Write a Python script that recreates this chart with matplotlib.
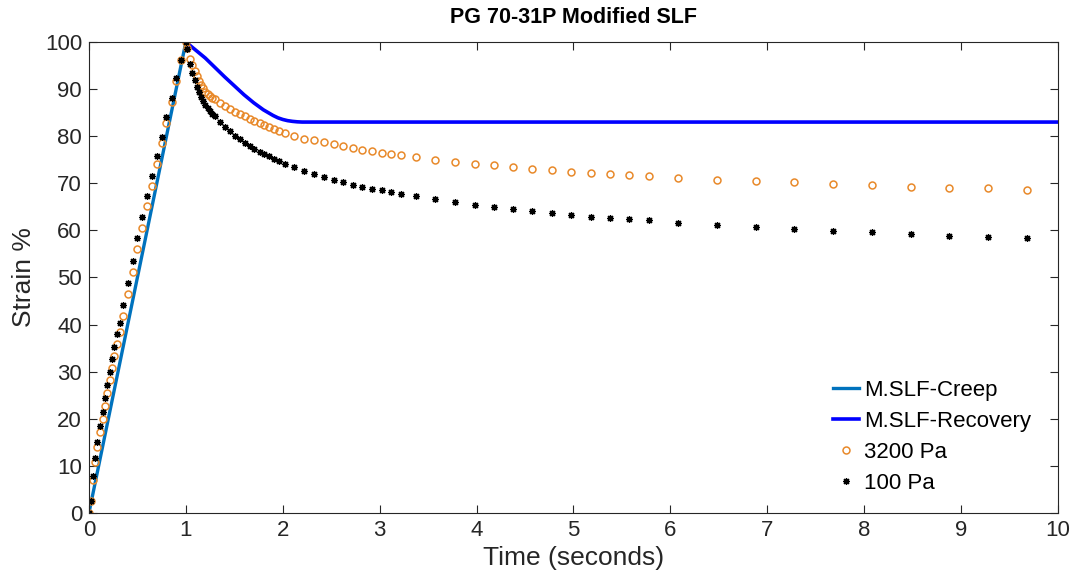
import matplotlib
matplotlib.use("Agg")
import matplotlib.pyplot as plt

plt.rcParams['font.family'] = ['Liberation Sans', 'DejaVu Sans']

# model curves
t_creep_model = [0.0, 1.0]
y_creep_model = [0.0, 100.0]
t_rec_model = [1.0, 1.1, 1.2, 1.3, 1.4, 1.5, 1.6, 1.7, 1.8, 1.85, 1.9, 1.95, 2.0, 2.05,
               2.1, 2.15, 2.2, 10.0]
y_rec_model = [100.0, 98.3, 96.6, 94.6, 92.6, 90.7, 88.8, 87.1, 85.6, 85.0, 84.4, 83.9,
               83.55, 83.3, 83.15, 83.05, 83.0, 83.0]

# measured data (creep part, shared time points)
t_creep = [0, 0.017, 0.04, 0.062, 0.088, 0.117, 0.14, 0.162, 0.187, 0.213, 0.237, 0.263,
           0.29, 0.317, 0.351, 0.403, 0.45, 0.50, 0.55, 0.60, 0.652, 0.705, 0.752, 0.80,
           0.857, 0.903, 0.955, 1.0]
pa3200_creep = [0, 2.6, 7.1, 10.8, 14.1, 17.1, 20.0, 22.8, 25.5, 28.2, 30.7, 33.3, 35.9, 38.4,
                41.9, 46.6, 51.2, 56.1, 60.6, 65.1, 69.5, 74.0, 78.5, 82.9, 87.3, 91.7, 96.2, 100]
pa100_creep = [0, 2.6, 7.9, 11.6, 15.1, 18.5, 21.5, 24.4, 27.2, 29.9, 32.6, 35.3, 38.0, 40.4,
               44.2, 48.9, 53.6, 58.3, 62.8, 67.2, 71.5, 75.7, 79.9, 84.1, 88.2, 92.3, 96.2, 100]

# measured data (recovery part)
t_rec = [1.015, 1.04, 1.066, 1.09, 1.11, 1.135, 1.155, 1.18, 1.20, 1.23, 1.25, 1.27, 1.30,
         1.35, 1.40, 1.455, 1.51, 1.56, 1.61, 1.66, 1.705, 1.76, 1.805, 1.855, 1.905, 1.96,
         2.02, 2.12, 2.22, 2.325, 2.425, 2.525, 2.62, 2.72, 2.82, 2.92, 3.02, 3.12, 3.22,
         3.37, 3.57, 3.78, 3.98, 4.18, 4.375, 4.575,
         4.775, 4.974, 5.18, 5.38, 5.57, 5.78, 6.08, 6.48, 6.88, 7.28, 7.68, 8.08, 8.48,
         8.88, 9.28, 9.68]
pa3200_rec = [98.8, 96.4, 95.1, 93.8, 92.7, 91.7, 90.9, 90.2, 89.4, 88.9, 88.5, 88.2, 87.8,
              87.1, 86.4, 85.8, 85.2, 84.7, 84.2, 83.7, 83.2, 82.7, 82.3, 81.9, 81.5, 81.1,
              80.7, 80.1, 79.5, 79.2, 78.7, 78.3, 77.9, 77.5, 77.1, 76.8, 76.5, 76.2, 75.9,
              75.5, 75.0, 74.5, 74.2, 73.8, 73.4, 73.1,
              72.8, 72.5, 72.2, 72.0, 71.8, 71.5, 71.2, 70.8, 70.5, 70.2, 69.9, 69.6, 69.3,
              69.1, 68.9, 68.6]
pa100_rec = [98.5, 95.3, 93.5, 91.9, 90.5, 89.3, 88.4, 87.5, 86.7, 86.0, 85.4, 84.8, 84.2,
             83.1, 82.0, 81.0, 80.1, 79.3, 78.6, 77.9, 77.3, 76.7, 76.2, 75.7, 75.2, 74.7,
             74.2, 73.4, 72.6, 71.9, 71.3, 70.8, 70.3, 69.7, 69.3, 68.8, 68.5, 68.1, 67.7,
             67.2, 66.6, 66.0, 65.4, 65.0, 64.5, 64.1,
             63.7, 63.3, 62.9, 62.6, 62.4, 62.1, 61.6, 61.1, 60.7, 60.3, 59.9, 59.6, 59.2,
             58.9, 58.7, 58.4]

fig = plt.figure(figsize=(10.73, 5.84), dpi=100)
ax = fig.add_axes([0.0829, 0.1216, 0.9031, 0.8065])

h1, = ax.plot(t_creep_model, y_creep_model, color='#0072BD', lw=2.4, label='M.SLF-Creep')
h2, = ax.plot(t_rec_model, y_rec_model, color='#0000FF', lw=2.6, label='M.SLF-Recovery')
h3, = ax.plot(t_creep + t_rec, pa3200_creep + pa3200_rec, ls='none', marker='o', ms=5,
              mfc='none', mec='#E8892A', mew=1.1, label='3200 Pa')
h4, = ax.plot(t_creep + t_rec, pa100_creep + pa100_rec, ls='none', marker=(8, 2, 0), ms=5,
              color='black', mew=0.9, label='100 Pa')

ax.set_xlim(0, 10)
ax.set_ylim(0, 100)
ax.set_xticks(range(0, 11))
ax.set_yticks(range(0, 101, 10))
ax.tick_params(direction='in', length=6, width=0.8, labelsize=16, colors='#262626',
               top=True, right=True, pad=5)
for s in ax.spines.values():
    s.set_color('#262626')
    s.set_linewidth(0.8)

ax.set_xlabel('Time (seconds)', fontsize=19, color='#262626', labelpad=4)
ax.set_ylabel('Strain %', fontsize=19, color='#262626', labelpad=6)
ax.set_title('PG 70-31P Modified SLF', fontsize=15.5, fontweight='bold', pad=14)

ax.legend(handles=[h1, h2, h3, h4], loc='lower right', frameon=False, fontsize=16,
          handlelength=1.2, handletextpad=0.2, labelspacing=0.45,
          borderaxespad=0.3, bbox_to_anchor=(0.988, 0.007))

fig.savefig('out.png', dpi=100)
